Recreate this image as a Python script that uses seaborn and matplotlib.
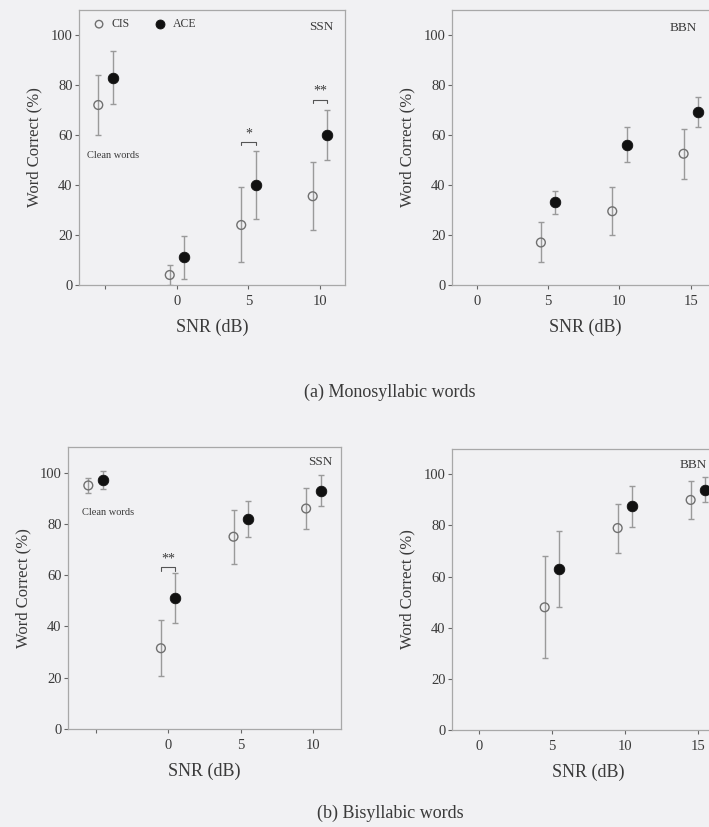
import matplotlib
matplotlib.use("Agg")
import matplotlib.pyplot as plt
import seaborn as sns
import pandas as pd

# --- data (word correct %, mean and error) ---
ssn_snr = [-5, 0, 5, 10]          # -5 is the "clean words" column
bbn_snr = [5, 10, 15]

mono_ssn_cis = [72, 4, 24, 35.5]
mono_ssn_cis_err = [12, 4, 15, 13.5]
mono_ssn_ace = [83, 11, 40, 60]
mono_ssn_ace_err = [10.5, 8.5, 13.5, 10]

mono_bbn_cis = [17, 29.5, 52.5]
mono_bbn_cis_err = [8, 9.5, 10]
mono_bbn_ace = [33, 56, 69]
mono_bbn_ace_err = [4.5, 7, 6]

bi_ssn_cis = [95, 31.5, 75, 86]
bi_ssn_cis_err = [3, 11, 10.6, 8]
bi_ssn_ace = [97, 51, 82, 93]
bi_ssn_ace_err = [3.5, 9.7, 7, 6.2]

bi_bbn_cis = [48, 79, 90]
bi_bbn_cis_err = [20, 9.6, 7.5]
bi_bbn_ace = [63, 87.5, 94]
bi_bbn_ace_err = [15, 8, 5]

ssn_ticklabels = ['', '0', '5', '10']
bbn_ticklabels = ['0', '5', '10', '15']

# significance marks: (snr, height, label)
mono_ssn_sig = [(5, 57, '*'), (10, 74, '**')]
bi_ssn_sig = [(0, 63, '**')]

sns.set_theme(style="white")
plt.rcParams['font.family'] = ['Liberation Serif', 'DejaVu Serif']

BG = '#f1f1f3'
TXT = '#3a3a3a'
ERR = '#9a9a9a'


def draw_panel(ax, snr, cis, cis_err, ace, ace_err, xlim, xticks, xticklabels,
               noise, noise_pos, clean_pos=None, sig=(), legend=False):
    df = pd.DataFrame({
        'snr': list(snr) * 2,
        'score': list(cis) + list(ace),
        'err': list(cis_err) + list(ace_err),
        'proc': ['CIS'] * len(snr) + ['ACE'] * len(snr),
    })
    df['xpos'] = df['snr'] + df['proc'].map({'CIS': -0.5, 'ACE': 0.5})
    lower = (df['score'] - df['err']).clip(lower=0)
    ax.errorbar(df['xpos'], df['score'],
                yerr=[df['score'] - lower, df['err']],
                fmt='none', ecolor=ERR, elinewidth=1.0, capsize=2.5,
                capthick=1.0, zorder=2)
    cis_df = df[df['proc'] == 'CIS']
    ace_df = df[df['proc'] == 'ACE']
    sns.scatterplot(data=cis_df, x='xpos', y='score', ax=ax, s=40,
                    facecolor='none', edgecolor='#707070', linewidth=1.0,
                    zorder=3, label='CIS' if legend else None)
    sns.scatterplot(data=ace_df, x='xpos', y='score', ax=ax, s=58,
                    color='#111111', edgecolor='#111111', linewidth=0.6,
                    zorder=4, label='ACE' if legend else None)

    for x, h, lab in sig:
        x0, x1 = x - 0.5, x + 0.5
        ax.plot([x0, x0, x1, x1], [h - 1.2, h, h, h - 1.2], color='#555555',
                lw=0.8, zorder=3)
        ax.text(x, h + 0.8, lab, ha='center', va='bottom', fontsize=10,
                color=TXT)

    ax.set_xlim(*xlim)
    ax.set_ylim(0, 110)
    ax.set_xticks(xticks)
    ax.set_xticklabels(xticklabels)
    ax.set_yticks([0, 20, 40, 60, 80, 100])
    ax.tick_params(axis='both', direction='out', length=3, width=0.8,
                   colors='#666666', labelcolor=TXT, labelsize=10.5, pad=1.5)
    ax.tick_params(axis='x', pad=4)
    ax.tick_params(axis='both', which='both', bottom=True, left=True)
    ax.set_facecolor(BG)
    for sp in ax.spines.values():
        sp.set_color('#a8a8a8')
        sp.set_linewidth(0.9)
    ax.set_xlabel('SNR (dB)', fontsize=13, color=TXT, labelpad=8)
    ax.set_ylabel('Word Correct (%)', fontsize=12, color=TXT, labelpad=6)
    ax.text(noise_pos[0], noise_pos[1], noise, transform=ax.transAxes,
            ha='right' if noise_pos[0] > 0.9 else 'left', va='center',
            fontsize=9.5, color=TXT)
    if clean_pos is not None:
        ax.text(clean_pos[0], clean_pos[1], 'Clean words',
                transform=ax.transAxes, ha='left', va='center',
                fontsize=7.5, color=TXT)
    if legend:
        ax.legend(loc='upper left', bbox_to_anchor=(0.0, 1.0), ncol=2,
                  frameon=False, fontsize=8.5, handletextpad=0.05,
                  columnspacing=1.6, borderaxespad=0.3, markerscale=0.85,
                  labelcolor=TXT)
    elif ax.get_legend() is not None:
        ax.get_legend().remove()


fig = plt.figure(figsize=(7.09, 8.27), dpi=100)
fig.patch.set_facecolor(BG)

ax1 = fig.add_axes([0.1114, 0.6554, 0.375, 0.3325])
ax2 = fig.add_axes([0.6375, 0.6554, 0.375, 0.3325])
ax3 = fig.add_axes([0.0959, 0.1185, 0.385, 0.341])
ax4 = fig.add_axes([0.6375, 0.1173, 0.385, 0.340])

draw_panel(ax1, ssn_snr, mono_ssn_cis, mono_ssn_cis_err, mono_ssn_ace,
           mono_ssn_ace_err, (-6.85, 11.75), ssn_snr, ssn_ticklabels,
           'SSN', (0.955, 0.94), clean_pos=(0.03, 0.47),
           sig=mono_ssn_sig, legend=True)
draw_panel(ax2, bbn_snr, mono_bbn_cis, mono_bbn_cis_err, mono_bbn_ace,
           mono_bbn_ace_err, (-1.73, 16.9), [0] + bbn_snr, bbn_ticklabels,
           'BBN', (0.82, 0.934))
draw_panel(ax3, ssn_snr, bi_ssn_cis, bi_ssn_cis_err, bi_ssn_ace,
           bi_ssn_ace_err, (-6.9, 11.9), ssn_snr, ssn_ticklabels,
           'SSN', (0.967, 0.947), clean_pos=(0.05, 0.766),
           sig=bi_ssn_sig)
draw_panel(ax4, bbn_snr, bi_bbn_cis, bi_bbn_cis_err, bi_bbn_ace,
           bi_bbn_ace_err, (-1.85, 16.85), [0] + bbn_snr, bbn_ticklabels,
           'BBN', (0.835, 0.943))

fig.text(0.55, 0.526, '(a) Monosyllabic words', ha='center', va='center',
         fontsize=13, color=TXT)
fig.text(0.55, 0.017, '(b) Bisyllabic words', ha='center', va='center',
         fontsize=13, color=TXT)

fig.savefig('out.png', dpi=100, facecolor=BG)
